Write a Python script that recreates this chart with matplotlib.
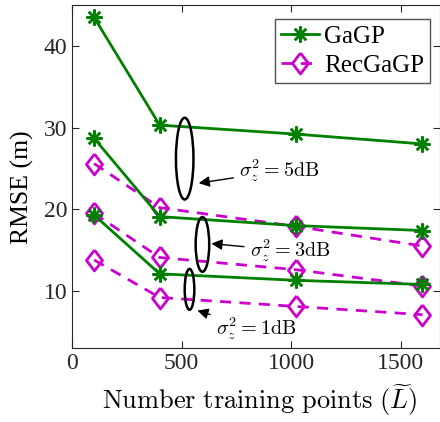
import numpy as np
import matplotlib
matplotlib.use('Agg')
import matplotlib.pyplot as plt
from matplotlib.patches import Ellipse

plt.rcParams['font.family'] = ['Liberation Serif', 'DejaVu Serif']
plt.rcParams['mathtext.fontset'] = 'cm'

# Punti di training
L = [100, 400, 1024, 1600]

# GaGP (linee continue)
gagp_5 = [43.5, 30.3, 29.2, 28.0]
gagp_3 = [28.7, 19.1, 18.0, 17.4]
gagp_1 = [19.3, 12.1, 11.3, 10.8]

# RecGaGP (linee tratteggiate)
rec_5 = [25.6, 20.2, 17.9, 15.5]
rec_3 = [19.5, 14.1, 12.6, 10.6]
rec_1 = [13.8, 9.2, 8.1, 7.1]

green = '#008000'
mag = '#cc00cc'

# diamante stile MATLAB (un po' piu' alto che largo)
diam = [(0, 1), (0.77, 0), (0, -1), (-0.77, 0), (0, 1)]

fig = plt.figure(figsize=(4.4, 4.22), dpi=100)
ax = fig.add_axes([0.164, 0.175, 0.836, 0.813])

for k, (g, r) in enumerate([(gagp_5, rec_5), (gagp_3, rec_3), (gagp_1, rec_1)]):
    ax.plot(L, g, color=green, lw=2, marker=(8, 2, 0), markersize=11.5, markeredgewidth=1.8,
            label='GaGP' if k == 0 else None, zorder=3)
    ax.plot(L, r, color=mag, lw=2, ls=(0, (4, 3)), marker=diam, markersize=15,
            markerfacecolor='none', markeredgewidth=2,
            label='RecGaGP' if k == 0 else None, zorder=3)

# Ellissi
ax.add_patch(Ellipse((514, 26.2), 80, 10.0, fill=False, lw=1.8, color='k', zorder=4))
ax.add_patch(Ellipse((595, 15.7), 62, 6.7, fill=False, lw=1.8, color='k', zorder=4))
ax.add_patch(Ellipse((536, 10.2), 44, 5.0, fill=False, lw=1.8, color='k', zorder=4))

arrow = dict(arrowstyle='-|>', color='k', lw=1.0, mutation_scale=16, shrinkA=2, shrinkB=0)
ax.annotate(r'$\sigma_z^2 = 5\mathrm{dB}$', xy=(578, 23.2), xytext=(762, 24.7),
            fontsize=14.5, va='center', arrowprops=arrow)
ax.annotate(r'$\sigma_z^2 = 3\mathrm{dB}$', xy=(636, 15.8), xytext=(810, 14.9),
            fontsize=14.5, va='center', arrowprops=arrow)
ax.annotate(r'$\sigma_z^2 = 1\mathrm{dB}$', xy=(572, 7.6), xytext=(655, 5.4),
            fontsize=14.5, va='center', arrowprops=arrow)

ax.set_xlim(0, 1680)
ax.set_ylim(3, 45)
ax.set_xticks([0, 500, 1000, 1500])
ax.set_yticks([10, 20, 30, 40])
ax.tick_params(direction='in', labelsize=17, top=True, right=True, length=5,
               color='#262626', labelcolor='#262626')
for s in ax.spines.values():
    s.set_color('#262626')
    s.set_linewidth(0.8)

ax.set_xlabel(r'$\mathrm{Number\ training\ points}\ (\widetilde{L})$', fontsize=19)
ax.set_ylabel('RMSE (m)', fontsize=18.5)
ax.xaxis.set_label_coords(0.51, -0.1)
ax.yaxis.set_label_coords(-0.105, 0.47)

ax.legend(loc='upper right', fontsize=18, frameon=True, fancybox=False,
          edgecolor='#262626', borderpad=0.25, handlelength=1.5, handletextpad=0.2,
          labelspacing=0.25, borderaxespad=0, bbox_to_anchor=(0.973, 0.959))

plt.savefig('out.png', dpi=100)
